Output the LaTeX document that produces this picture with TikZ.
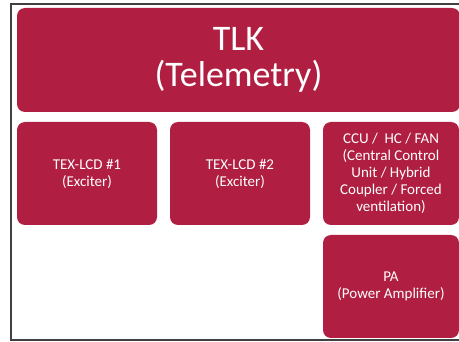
\documentclass[tikz,border=0pt]{standalone}
\usepackage{fontspec}
\setmainfont{Carlito}
\definecolor{tlkred}{RGB}{176,30,65}
\tikzset{
  blk/.style={fill=tlkred, rounded corners=8pt, text=white, align=center,
              inner sep=0pt, font=\fontsize{15}{17}\selectfont},
  frameline/.style={line width=2pt, black!75}
}
\begin{document}
\begin{tikzpicture}[x=1pt, y=-1pt]
    \useasboundingbox (0,0) rectangle (459,342);
    % ── slide frame ──────────────────────────────────────────────────
    \draw[frameline] (480,4.5) -- (10.5,4.5) -- (10.5,340.5) -- (480,340.5);

    % ── top block ────────────────────────────────────────────────────
    \node[blk, minimum width=443, minimum height=104,
          font=\fontsize{36}{36}\selectfont] (tlk) at (238.5,60)
          {TLK\\(Telemetry)};

    % ── second row ───────────────────────────────────────────────────
    \node[blk, minimum width=140, minimum height=103] (tex1) at (87,173.5)
          {TEX-LCD \#1\\(Exciter)};
    \node[blk, minimum width=140, minimum height=103] (tex2) at (240,173.5)
          {TEX-LCD \#2\\(Exciter)};
    \node[blk, minimum width=136, minimum height=103] (ccu) at (391,173.5)
          {CCU / ~HC / FAN\\(Central Control\\Unit / Hybrid\\Coupler / Forced\\ventilation)};

    % ── power amplifier ──────────────────────────────────────────────
    \node[blk, minimum width=136, minimum height=103] (pa) at (391,286.5)
          {PA\\(Power Amplifier)};
  \end{tikzpicture}
\end{document}
